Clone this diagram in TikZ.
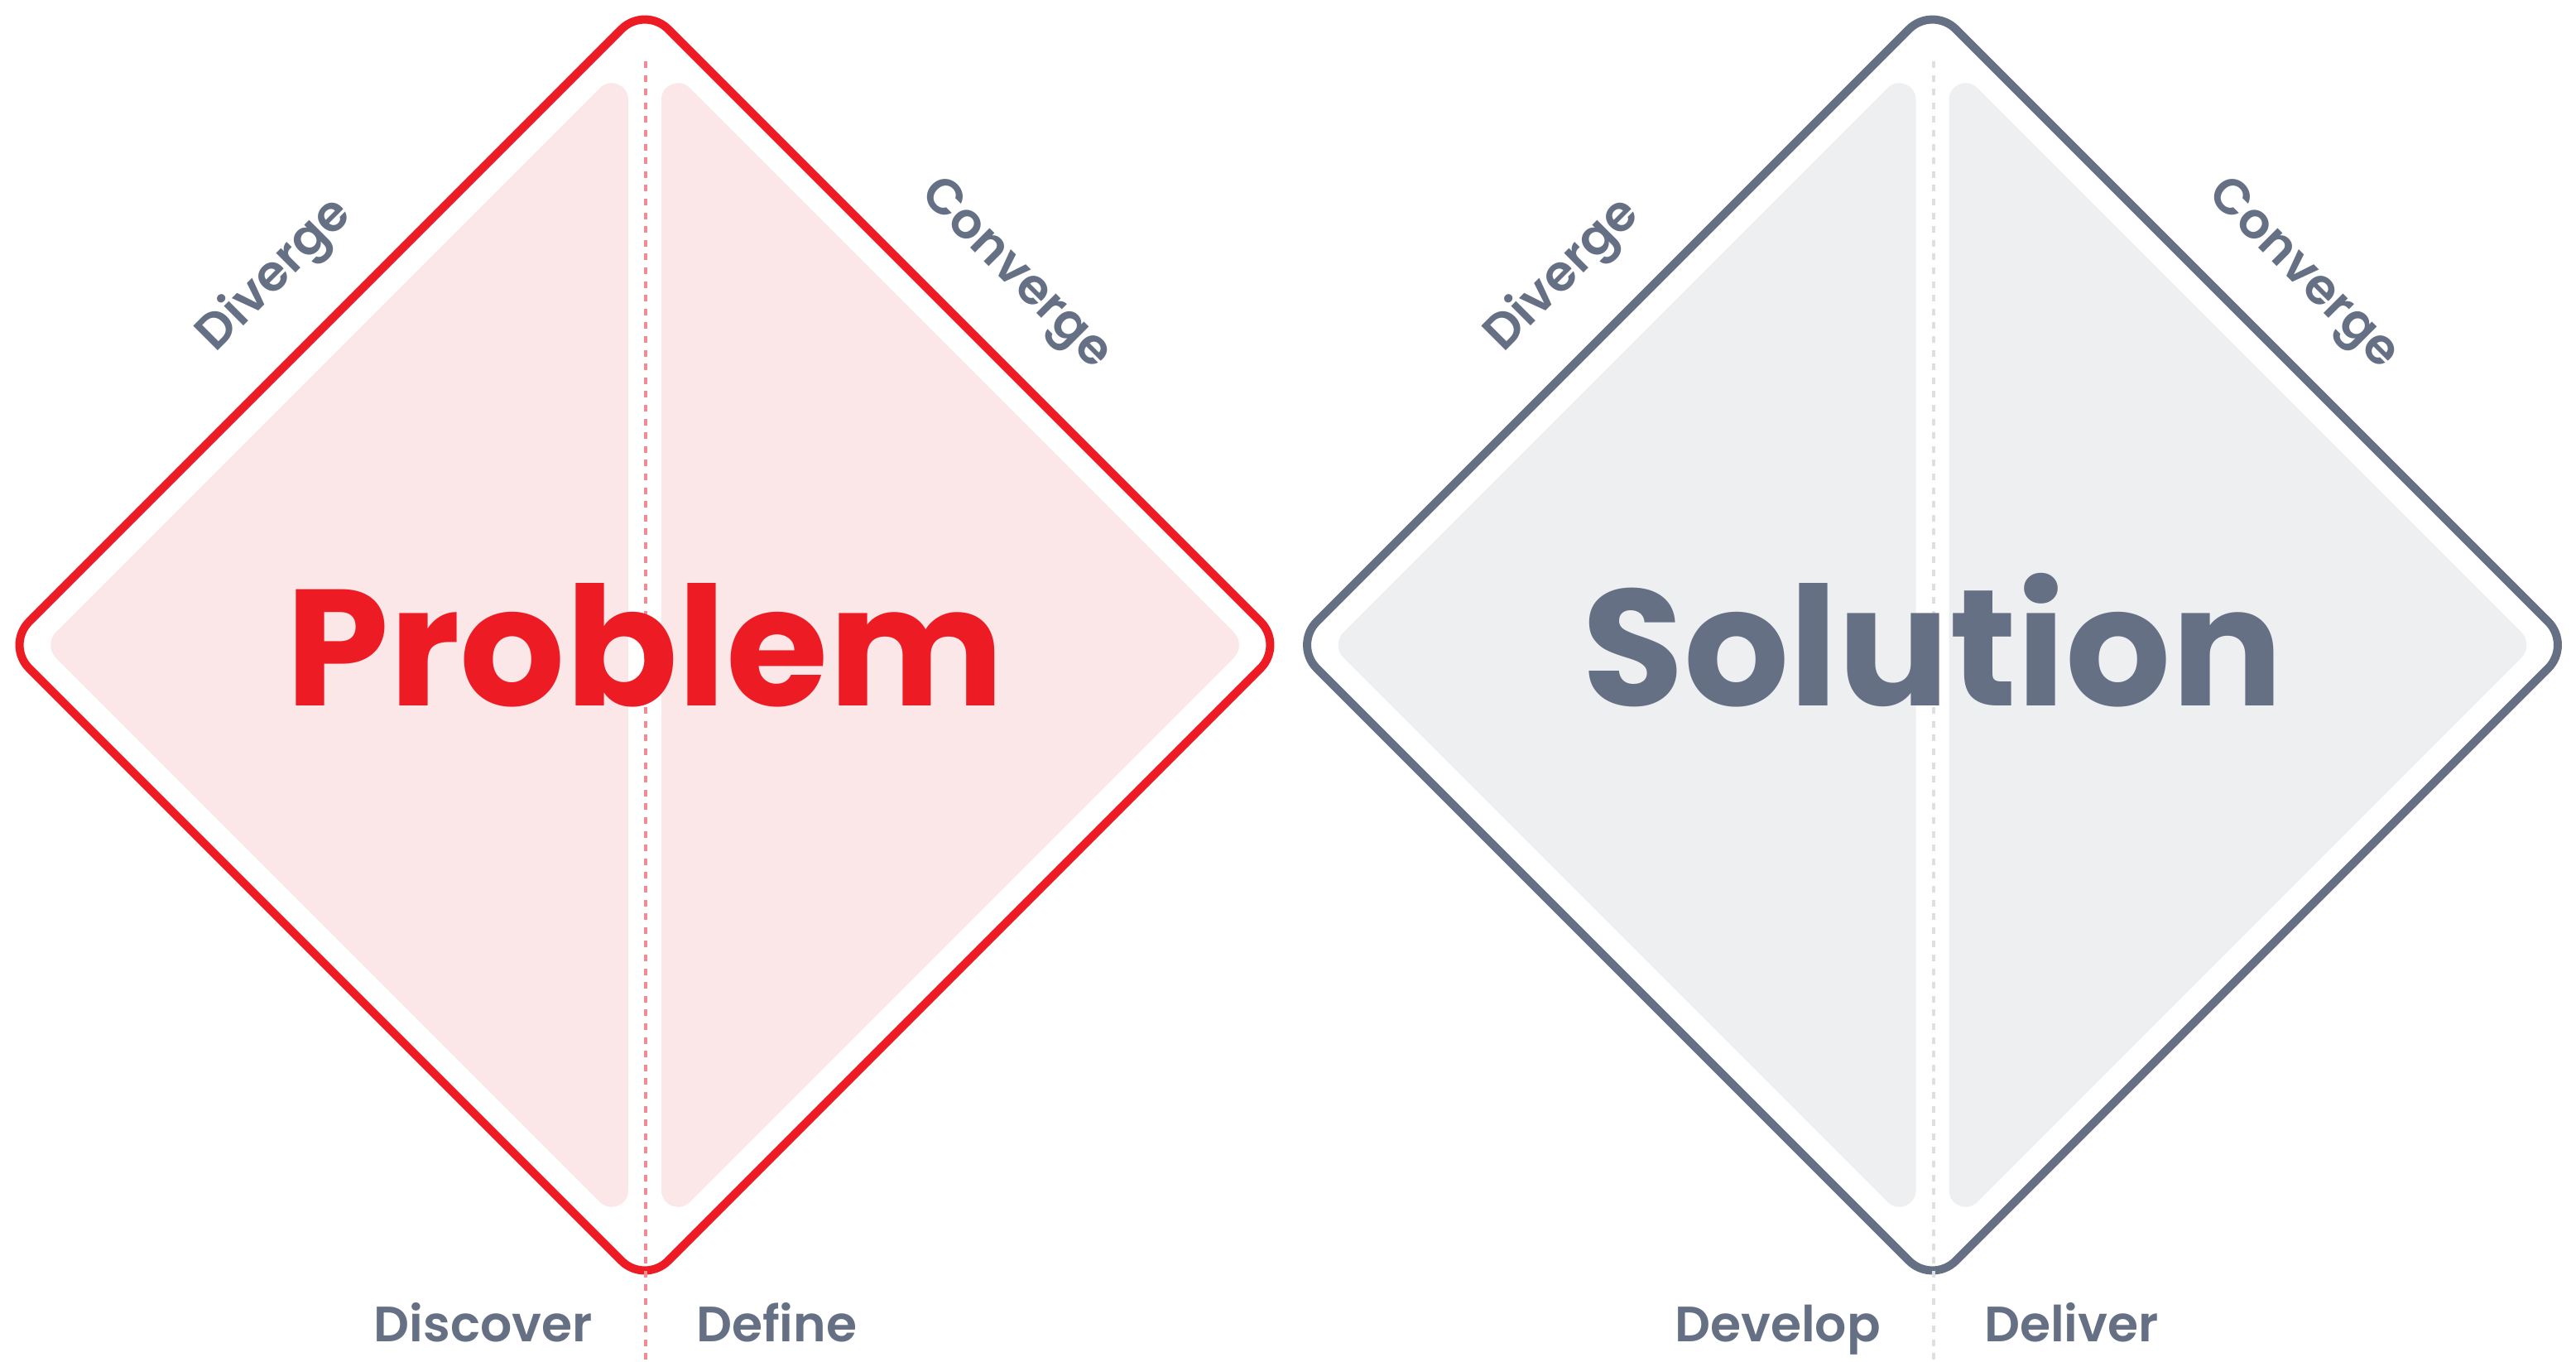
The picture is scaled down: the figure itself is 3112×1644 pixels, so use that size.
\documentclass[tikz,border=0pt]{standalone}
\usepackage{fontspec}
\newfontfamily\popB{Poppins Bold}
\newfontfamily\popSB{Poppins SemiBold}
\definecolor{pRed}{HTML}{ED1C24}
\definecolor{pGray}{HTML}{667085}
\definecolor{pRedFill}{HTML}{FCE7E8}
\definecolor{pGrayFill}{HTML}{EEEFF1}
\definecolor{pRedDash}{HTML}{F28B93}
\definecolor{pGrayDash}{HTML}{DCDFE4}
\def\dtHalf#1{%
  \fill[#1] (-20,-658.7) -- (-20,658.7)
    .. controls (-20,676.52) and (-41.55,685.45) .. (-54.15,672.85)
    -- (-711.44,15.56)
    .. controls (-720.03,6.97) and (-720.03,-6.97) .. (-711.44,-15.56)
    -- (-54.15,-672.85)
    .. controls (-41.55,-685.45) and (-20,-676.52) .. (-20,-658.7) -- cycle;}
\begin{document}
\begin{tikzpicture}[x=1pt,y=-1pt,
  outline/.style={line width=10pt, rounded corners=40pt, line join=round},
  bigword/.style={font=\fontsize{200}{200}\selectfont\popB, inner sep=0pt, anchor=base},
  phase/.style={font=\fontsize{60}{60}\selectfont\popSB, text=pGray, inner sep=0pt},
  divider/.style={line width=4pt, dash pattern=on 8pt off 8.6pt}]
\useasboundingbox (0,0) rectangle (3112,1644);
% left diamond
\begin{scope}[shift={(779,779)}]
  \dtHalf{pRedFill}
  \begin{scope}[xscale=-1]\dtHalf{pRedFill}\end{scope}
  \draw[outline, pRed] (386,-386) -- (772,0) -- (0,772) -- (-772,0) -- (0,-772) -- cycle;
\end{scope}
% right diamond
\begin{scope}[shift={(2334.5,779)}]
  \dtHalf{pGrayFill}
  \begin{scope}[xscale=-1]\dtHalf{pGrayFill}\end{scope}
  \draw[outline, pGray] (386,-386) -- (772,0) -- (0,772) -- (-772,0) -- (0,-772) -- cycle;
\end{scope}
% dividers
\coordinate (d1top) at (779.5,74);
\coordinate (d1bot) at (779.5,1644);
\coordinate (d2top) at (2335.5,74);
\coordinate (d2bot) at (2335.5,1644);
\draw[divider, pRedDash] (d1top) -- (d1bot);
\draw[divider, pGrayDash] (d2top) -- (d2bot);
% texts
\node[bigword, text=pRed] (problem) at (779,852) {Problem};
\node[bigword, text=pGray] (solution) at (2334.5,852) {Solution};
\node[phase, anchor=base east] (discover) at (716,1620) {Discover};
\node[phase, anchor=base west] (define) at (841,1620) {Define};
\node[phase, anchor=base east] (develop) at (2272,1620) {Develop};
\node[phase, anchor=base west] (deliver) at (2397,1620) {Deliver};
\node[phase, rotate=45] (diverge1) at (333,333) {Diverge};
\node[phase, rotate=-45] (converge1) at (1225,333) {Converge};
\node[phase, rotate=45] (diverge2) at (1888.5,333) {Diverge};
\node[phase, rotate=-45] (converge2) at (2780.5,333) {Converge};
\end{tikzpicture}
\end{document}
